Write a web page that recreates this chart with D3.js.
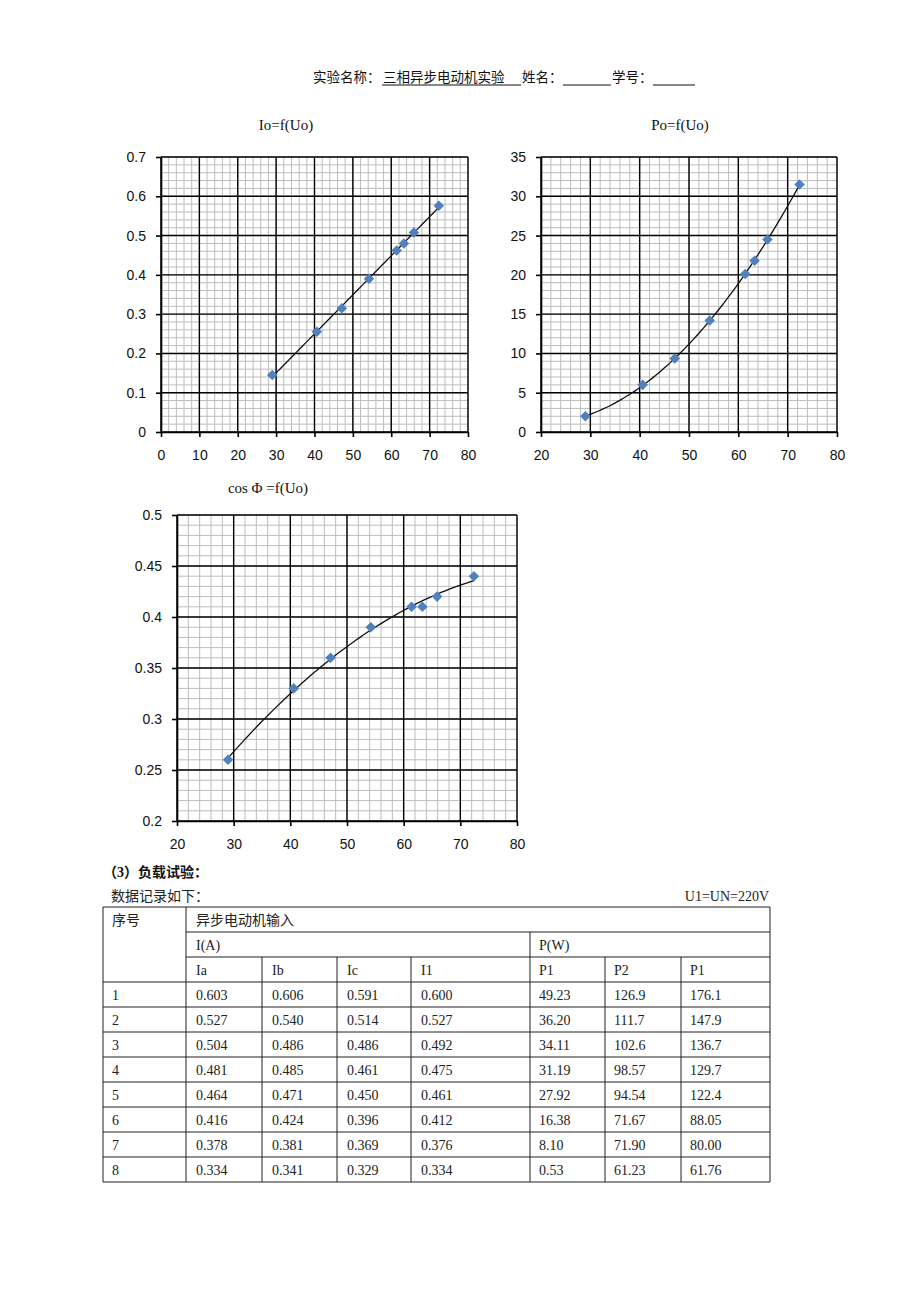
<!DOCTYPE html>
<html><head><meta charset="utf-8">
<script src="https://cdn.jsdelivr.net/npm/d3@7"></script>
<style>
html,body{margin:0;padding:0;background:#fff;}
svg{display:block;}
</style></head>
<body>
<svg id="page" width="920" height="1302"></svg>
<script>
// ---------------- DATA ----------------
const U0 = [29.0, 40.6, 47.1, 54.2, 61.4, 63.3, 65.9, 72.4];
const I0 = [0.145, 0.255, 0.315, 0.39, 0.462, 0.48, 0.508, 0.576];
const P0 = [2.0, 6.0, 9.35, 14.2, 20.1, 21.8, 24.5, 31.5];
const cosPhi = [0.26, 0.33, 0.36, 0.39, 0.41, 0.41, 0.42, 0.44];

const xTicksA = [0, 10, 20, 30, 40, 50, 60, 70, 80];
const xTicksB = [20, 30, 40, 50, 60, 70, 80];
const yTicksI = [0, 0.1, 0.2, 0.3, 0.4, 0.5, 0.6, 0.7];
const yTicksP = [0, 5, 10, 15, 20, 25, 30, 35];
const yTicksC = [0.2, 0.25, 0.3, 0.35, 0.4, 0.45, 0.5];

const titles = ["Io=f(Uo)", "Po=f(Uo)", "cos \u03A6 =f(Uo)"];

const headerLabel = "实验名称：";
const headerExp = "三相异步电动机实验";
const headerName = "姓名：";
const headerId = "学号：";
const sectionTitle = "（3）负载试验：";
const recordText = "数据记录如下：";
const conditionText = "U1=UN=220V";

const tblHead0 = "序号";
const tblHead1 = "异步电动机输入";
const tblGroups = ["I(A)", "P(W)"];
const tblCols = ["Ia", "Ib", "Ic", "I1", "P1", "P2", "P1"];
const rowNo = ["1", "2", "3", "4", "5", "6", "7", "8"];
const colIa = ["0.603", "0.527", "0.504", "0.481", "0.464", "0.416", "0.378", "0.334"];
const colIb = ["0.606", "0.540", "0.486", "0.485", "0.471", "0.424", "0.381", "0.341"];
const colIc = ["0.591", "0.514", "0.486", "0.461", "0.450", "0.396", "0.369", "0.329"];
const colI1 = ["0.600", "0.527", "0.492", "0.475", "0.461", "0.412", "0.376", "0.334"];
const colP1 = ["49.23", "36.20", "34.11", "31.19", "27.92", "16.38", "8.10", "0.53"];
const colP2 = ["126.9", "111.7", "102.6", "98.57", "94.54", "71.67", "71.90", "61.23"];
const colPs = ["176.1", "147.9", "136.7", "129.7", "122.4", "88.05", "80.00", "61.76"];

// ---------------- HELPERS ----------------
function polyfit(xs, ys, deg) {
  const n = deg + 1;
  const A = Array.from({length: n}, () => new Array(n + 1).fill(0));
  for (let i = 0; i < xs.length; i++) {
    for (let r = 0; r < n; r++) {
      for (let c = 0; c < n; c++) A[r][c] += Math.pow(xs[i], r + c);
      A[r][n] += ys[i] * Math.pow(xs[i], r);
    }
  }
  for (let p = 0; p < n; p++) {
    let m = p;
    for (let r = p + 1; r < n; r++) if (Math.abs(A[r][p]) > Math.abs(A[m][p])) m = r;
    [A[p], A[m]] = [A[m], A[p]];
    for (let r = 0; r < n; r++) {
      if (r === p) continue;
      const f = A[r][p] / A[p][p];
      for (let c = p; c <= n; c++) A[r][c] -= f * A[p][c];
    }
  }
  const coef = A.map((row, i) => row[n] / row[i]);
  return x => coef.reduce((s, c, i) => s + c * Math.pow(x, i), 0);
}

const svg = d3.select("#page");
svg.append("rect").attr("width", 920).attr("height", 1302).attr("fill", "#fff");

const serif = "'Liberation Serif','Times New Roman','Noto Sans CJK SC',serif";
const cjk = "'Liberation Serif','Noto Sans CJK SC',sans-serif";
const sans = "'Liberation Sans',Arial,sans-serif";

// ---------------- HEADER ----------------
const hdr = svg.append("g").attr("font-family", cjk).attr("font-size", 13.5).attr("fill", "#111");
hdr.append("text").attr("x", 313).attr("y", 82).text(headerLabel);
hdr.append("text").attr("x", 383).attr("y", 82).text(headerExp);
hdr.append("line").attr("x1", 382).attr("x2", 521).attr("y1", 85).attr("y2", 85).attr("stroke", "#111");
hdr.append("text").attr("x", 522).attr("y", 82).text(headerName);
hdr.append("line").attr("x1", 563).attr("x2", 611).attr("y1", 85).attr("y2", 85).attr("stroke", "#111");
hdr.append("text").attr("x", 612).attr("y", 82).text(headerId);
hdr.append("line").attr("x1", 653).attr("x2", 695).attr("y1", 85).attr("y2", 85).attr("stroke", "#111");

// ---------------- CHARTS ----------------
function drawChart(cfg) {
  const g = svg.append("g");
  const x = d3.scaleLinear().domain(cfg.xDom).range([cfg.left, cfg.right]);
  const y = d3.scaleLinear().domain(cfg.yDom).range([cfg.bottom, cfg.top]);
  const xStep = cfg.xTicks[1] - cfg.xTicks[0];
  const yStep = cfg.yTicks[1] - cfg.yTicks[0];
  const xMinor = d3.range(0, (cfg.xDom[1] - cfg.xDom[0]) / xStep * 5 + 1).map(i => cfg.xDom[0] + i * xStep / 5);
  const yMinor = d3.range(0, Math.round((cfg.yDom[1] - cfg.yDom[0]) / yStep * 5) + 1).map(i => cfg.yDom[0] + i * yStep / 5);

  g.append("g").selectAll("line").data(xMinor).join("line")
    .attr("x1", d => x(d)).attr("x2", d => x(d)).attr("y1", cfg.top).attr("y2", cfg.bottom)
    .attr("stroke", "#bdbdbd").attr("stroke-width", 1);
  g.append("g").selectAll("line").data(yMinor).join("line")
    .attr("y1", d => y(d)).attr("y2", d => y(d)).attr("x1", cfg.left).attr("x2", cfg.right)
    .attr("stroke", "#bdbdbd").attr("stroke-width", 1);
  g.append("g").selectAll("line").data(cfg.xTicks).join("line")
    .attr("x1", d => x(d)).attr("x2", d => x(d)).attr("y1", cfg.top).attr("y2", cfg.bottom)
    .attr("stroke", "#000").attr("stroke-width", 1.4);
  g.append("g").selectAll("line").data(cfg.yTicks).join("line")
    .attr("y1", d => y(d)).attr("y2", d => y(d)).attr("x1", cfg.left).attr("x2", cfg.right)
    .attr("stroke", "#000").attr("stroke-width", 1.4);

  const xa = g.append("g").attr("transform", `translate(0,${cfg.bottom})`)
    .call(d3.axisBottom(x).tickValues(cfg.xTicks).tickSize(5).tickSizeOuter(0).tickPadding(13).tickFormat(d3.format("~g")));
  const ya = g.append("g").attr("transform", `translate(${cfg.left},0)`)
    .call(d3.axisLeft(y).tickValues(cfg.yTicks).tickSize(5).tickSizeOuter(0).tickPadding(10).tickFormat(d3.format("~g")));
  [xa, ya].forEach(a => {
    a.selectAll("path,line").attr("stroke", "#000").attr("stroke-width", 1.6);
    a.selectAll("text").attr("font-family", sans).attr("font-size", 14).attr("fill", "#111");
  });

  const f = polyfit(cfg.xs, cfg.ys, cfg.deg);
  const xMin = d3.min(cfg.xs), xMax = d3.max(cfg.xs);
  const curve = d3.range(0, 61).map(i => xMin + (xMax - xMin) * i / 60);
  g.append("path").datum(curve)
    .attr("d", d3.line().x(d => x(d)).y(d => y(f(d))).curve(d3.curveMonotoneX))
    .attr("fill", "none").attr("stroke", "#111").attr("stroke-width", 1.3);

  g.append("g").selectAll("path").data(cfg.xs.map((v, i) => [v, cfg.ys[i]])).join("path")
    .attr("d", d3.symbol(d3.symbolSquare).size(56)())
    .attr("transform", d => `translate(${x(d[0])},${y(d[1])}) rotate(45)`)
    .attr("fill", "#4f81bd");

  svg.append("text").attr("x", cfg.titleX).attr("y", cfg.titleY).attr("text-anchor", "middle")
    .attr("font-family", serif).attr("font-size", 15).attr("fill", "#111").text(cfg.title);
}

drawChart({left: 161, right: 468, top: 157, bottom: 432, xDom: [0, 80], yDom: [0, 0.7],
  xTicks: xTicksA, yTicks: yTicksI, xs: U0, ys: I0, deg: 1, title: titles[0], titleX: 286, titleY: 130});
drawChart({left: 541, right: 837, top: 157, bottom: 432, xDom: [20, 80], yDom: [0, 35],
  xTicks: xTicksB, yTicks: yTicksP, xs: U0, ys: P0, deg: 2, title: titles[1], titleX: 680, titleY: 130});
drawChart({left: 177, right: 517, top: 515, bottom: 821, xDom: [20, 80], yDom: [0.2, 0.5],
  xTicks: xTicksB, yTicks: yTicksC, xs: U0, ys: cosPhi, deg: 2, title: titles[2], titleX: 268, titleY: 493});

// ---------------- SECTION TEXT ----------------
svg.append("text").attr("x", 103).attr("y", 877).attr("font-family", cjk).attr("font-size", 14)
  .attr("font-weight", "bold").attr("fill", "#111").text(sectionTitle);
svg.append("text").attr("x", 111).attr("y", 901).attr("font-family", cjk).attr("font-size", 14)
  .attr("fill", "#222").text(recordText);
svg.append("text").attr("x", 769).attr("y", 901).attr("text-anchor", "end").attr("font-family", serif)
  .attr("font-size", 14).attr("fill", "#222").text(conditionText);

// ---------------- TABLE ----------------
const colX = [103, 186, 262, 337, 411, 530, 605, 681, 770];
const tTop = 907, rowH = 25, nRows = 3 + rowNo.length;
const tBottom = tTop + rowH * nRows;
const tbl = svg.append("g");
const lineAttr = sel => sel.attr("stroke", "#222").attr("stroke-width", 1);

const hLines = [
  {y: tTop, x1: colX[0], x2: colX[8]},
  {y: tTop + rowH, x1: colX[1], x2: colX[8]},
  {y: tTop + 2 * rowH, x1: colX[1], x2: colX[8]},
  ...d3.range(3, nRows + 1).map(r => ({y: tTop + r * rowH, x1: colX[0], x2: colX[8]}))
];
tbl.selectAll("line.h").data(hLines).join("line").attr("class", "h")
  .attr("x1", d => d.x1).attr("x2", d => d.x2).attr("y1", d => d.y).attr("y2", d => d.y).call(lineAttr);

const vLines = colX.map((cx, i) => {
  let y1 = tTop + 2 * rowH;
  if (i === 0 || i === 1 || i === 8) y1 = tTop;
  else if (i === 5) y1 = tTop + rowH;
  return {x: cx, y1, y2: tBottom};
});
tbl.selectAll("line.v").data(vLines).join("line").attr("class", "v")
  .attr("x1", d => d.x).attr("x2", d => d.x).attr("y1", d => d.y1).attr("y2", d => d.y2).call(lineAttr);

const txt = (x, y, s, fam) => tbl.append("text").attr("x", x).attr("y", y).attr("font-family", fam || serif)
  .attr("font-size", 14).attr("fill", "#222").text(s);
const base = r => tTop + r * rowH + 18;
txt(colX[0] + 9, base(0), tblHead0, cjk);
txt(colX[1] + 10, base(0), tblHead1, cjk);
txt(colX[1] + 10, base(1), tblGroups[0]);
txt(colX[5] + 9, base(1), tblGroups[1]);
tblCols.forEach((c, i) => txt(colX[i + 1] + (i >= 4 ? 9 : 10), base(2), c));
const cols = [rowNo, colIa, colIb, colIc, colI1, colP1, colP2, colPs];
cols.forEach((col, ci) => col.forEach((v, ri) => txt(colX[ci] + (ci === 0 ? 9 : (ci >= 5 ? 9 : 10)), base(3 + ri), v)));
</script>
</body></html>
